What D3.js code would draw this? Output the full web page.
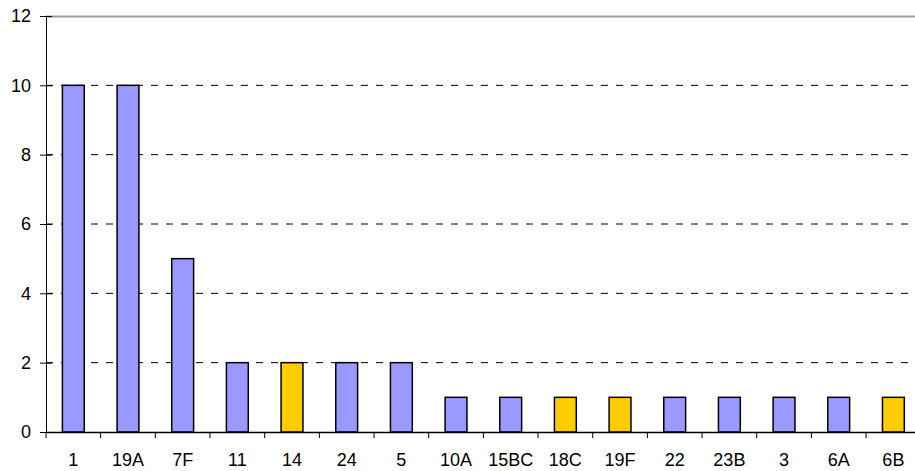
<!DOCTYPE html>
<html>
<head>
<meta charset="utf-8">
<script src="https://cdn.jsdelivr.net/npm/d3@7.9.0/dist/d3.min.js"></script>
<style>
  body { margin: 0; background: #fff; }
  text { font-family: Arial, "Liberation Sans", sans-serif; fill: #000; }
</style>
</head>
<body>
<svg id="chart" width="915" height="471"></svg>
<script>
// categories and counts
const categories = ['1', '19A', '7F', '11', '14', '24', '5', '10A', '15BC', '18C', '19F', '22', '23B', '3', '6A', '6B'];
const counts = [10, 10, 5, 2, 2, 2, 2, 1, 1, 1, 1, 1, 1, 1, 1, 1];
const highlighted = ['14', '18C', '19F', '6B'];
const yTicks = [0, 2, 4, 6, 8, 10, 12];

const svg = d3.select('#chart');
const plotLeft = 46, plotTop = 16, plotBottom = 432;
const band = 54.67;
const plotRight = plotLeft + band * categories.length;
const fontFamily = 'Arial, "Liberation Sans", sans-serif';

let x = d3.scaleBand().domain(categories).range([plotLeft, plotRight]).paddingInner(0.6).paddingOuter(0.3);
let y = d3.scaleLinear().domain([0, 12]).range([plotBottom, plotTop]);

// grid lines
svg.append('g')
    .selectAll('line')
    .data(yTicks.filter(d => d > 0 && d < 12))
    .join('line')
    .attr('x1', plotLeft).attr('x2', plotRight)
    .attr('y1', d => y(d)).attr('y2', d => y(d))
    .attr('stroke', '#000')
    .attr('stroke-width', 1)
    .attr('stroke-dasharray', '7,8');

// top border
svg.append('line')
    .attr('x1', plotLeft).attr('x2', plotRight)
    .attr('y1', y(12) + 0.5).attr('y2', y(12) + 0.5)
    .attr('stroke', '#999')
    .attr('stroke-width', 2);

// bars
svg.append('g')
    .selectAll('rect')
    .data(categories)
    .join('rect')
    .attr('x', d => x(d))
    .attr('y', (d, i) => y(counts[i]))
    .attr('width', x.bandwidth())
    .attr('height', (d, i) => plotBottom - y(counts[i]))
    .attr('fill', d => highlighted.includes(d) ? '#FFCC00' : '#9999FF')
    .attr('stroke', '#000')
    .attr('stroke-width', 1.5);

// y axis (ticks cross the axis line)
let yAxis = d3.axisLeft(y).tickValues(yTicks).tickSize(6).tickPadding(9);
let gy = svg.append('g').attr('transform', `translate(${plotLeft},0)`).call(yAxis);
gy.select('.domain').attr('stroke', '#000');
gy.selectAll('.tick line').attr('x2', -6).attr('x1', 6).attr('stroke', '#000');
gy.selectAll('text').attr('font-size', 18).attr('font-family', fontFamily);

// x axis with ticks between categories
let xAxis = d3.axisBottom(x).tickSize(0).tickPadding(21);
let gx = svg.append('g').attr('transform', `translate(0,${plotBottom})`).call(xAxis);
gx.select('.domain').attr('stroke', '#000').attr('stroke-width', 1.5);
gx.selectAll('text').attr('font-size', 18).attr('font-family', fontFamily);
gx.selectAll('.sep')
    .data(d3.range(categories.length + 1))
    .join('line')
    .attr('class', 'sep')
    .attr('x1', i => plotLeft + i * band).attr('x2', i => plotLeft + i * band)
    .attr('y1', 0).attr('y2', 6)
    .attr('stroke', '#000');
</script>
</body>
</html>
